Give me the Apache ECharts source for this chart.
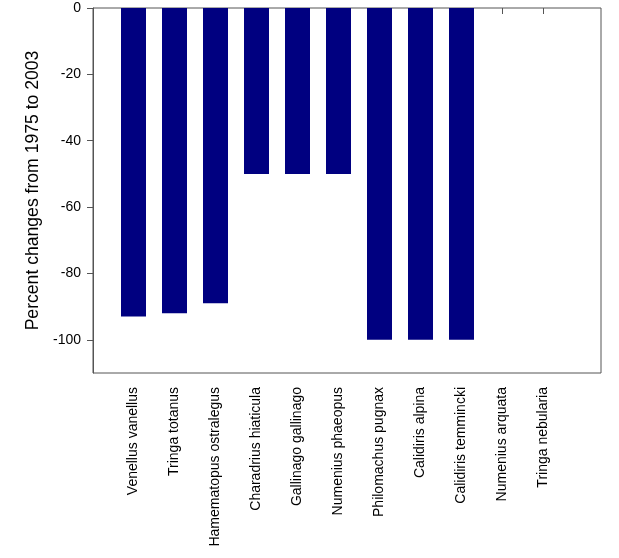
<!DOCTYPE html>
<html>
<head>
<meta charset="utf-8">
<script src="https://cdn.jsdelivr.net/npm/echarts@6/dist/echarts.min.js"></script>
<style>html,body{margin:0;padding:0;background:#fff}#c{width:619px;height:558px}</style>
</head>
<body>
<div id="c"></div>
<script>
const categories = ["Venellus vanellus","Tringa totanus","Hamematopus ostralegus","Charadrius hiaticula","Gallinago gallinago","Numenius phaeopus","Philomachus pugnax","Calidiris alpina","Calidiris temmincki","Numenius arquata","Tringa nebularia"];
const percentChange = [-93, -92, -89, -50, -50, -50, -100, -100, -100, 0, 0];
const yTicks = [0, -20, -40, -60, -80, -100];
const yTitle = "Percent changes from 1975 to 2003";

const axisColor = "#555555";
const font = "Liberation Sans, Arial, sans-serif";
const chart = echarts.init(document.getElementById('c'), null, {renderer: 'canvas'});
chart.setOption({
  animation: false,
  backgroundColor: '#ffffff',
  grid: [
    {left: 93, right: 18, top: 8, bottom: 185, show: true, borderColor: axisColor, borderWidth: 1, backgroundColor: 'transparent'},
    {left: 113, right: 55, top: 8, bottom: 185}
  ],
  xAxis: [
    {type: 'value', gridIndex: 0, min: 0, max: 1, show: false},
    {type: 'category', gridIndex: 1, data: categories,
      axisLine: {show: false},
      axisTick: {show: true, alignWithLabel: true, length: 6, lineStyle: {color: axisColor}},
      axisLabel: {rotate: 90, interval: 0, margin: 14, color: '#000', fontSize: 14, fontFamily: font}
    }
  ],
  yAxis: [
    {type: 'value', gridIndex: 0, min: -110, max: 0,
      name: yTitle, nameLocation: 'middle', nameGap: 50,
      nameTextStyle: {color: '#000', fontSize: 17.6, fontFamily: font},
      axisLine: {show: true, lineStyle: {color: axisColor}},
      axisTick: {show: true, length: 6, customValues: yTicks, lineStyle: {color: axisColor}},
      axisLabel: {customValues: yTicks, color: '#000', fontSize: 14, fontFamily: font, margin: 12},
      splitLine: {show: false}
    },
    {type: 'value', gridIndex: 1, min: -110, max: 0, show: false, splitLine: {show: false}}
  ],
  series: [{
    type: 'bar', xAxisIndex: 1, yAxisIndex: 1,
    data: percentChange.map(v => (v === 0 ? '-' : v)),
    barWidth: 25,
    itemStyle: {color: '#000080', borderWidth: 0}
  }]
});
</script>
</body>
</html>
